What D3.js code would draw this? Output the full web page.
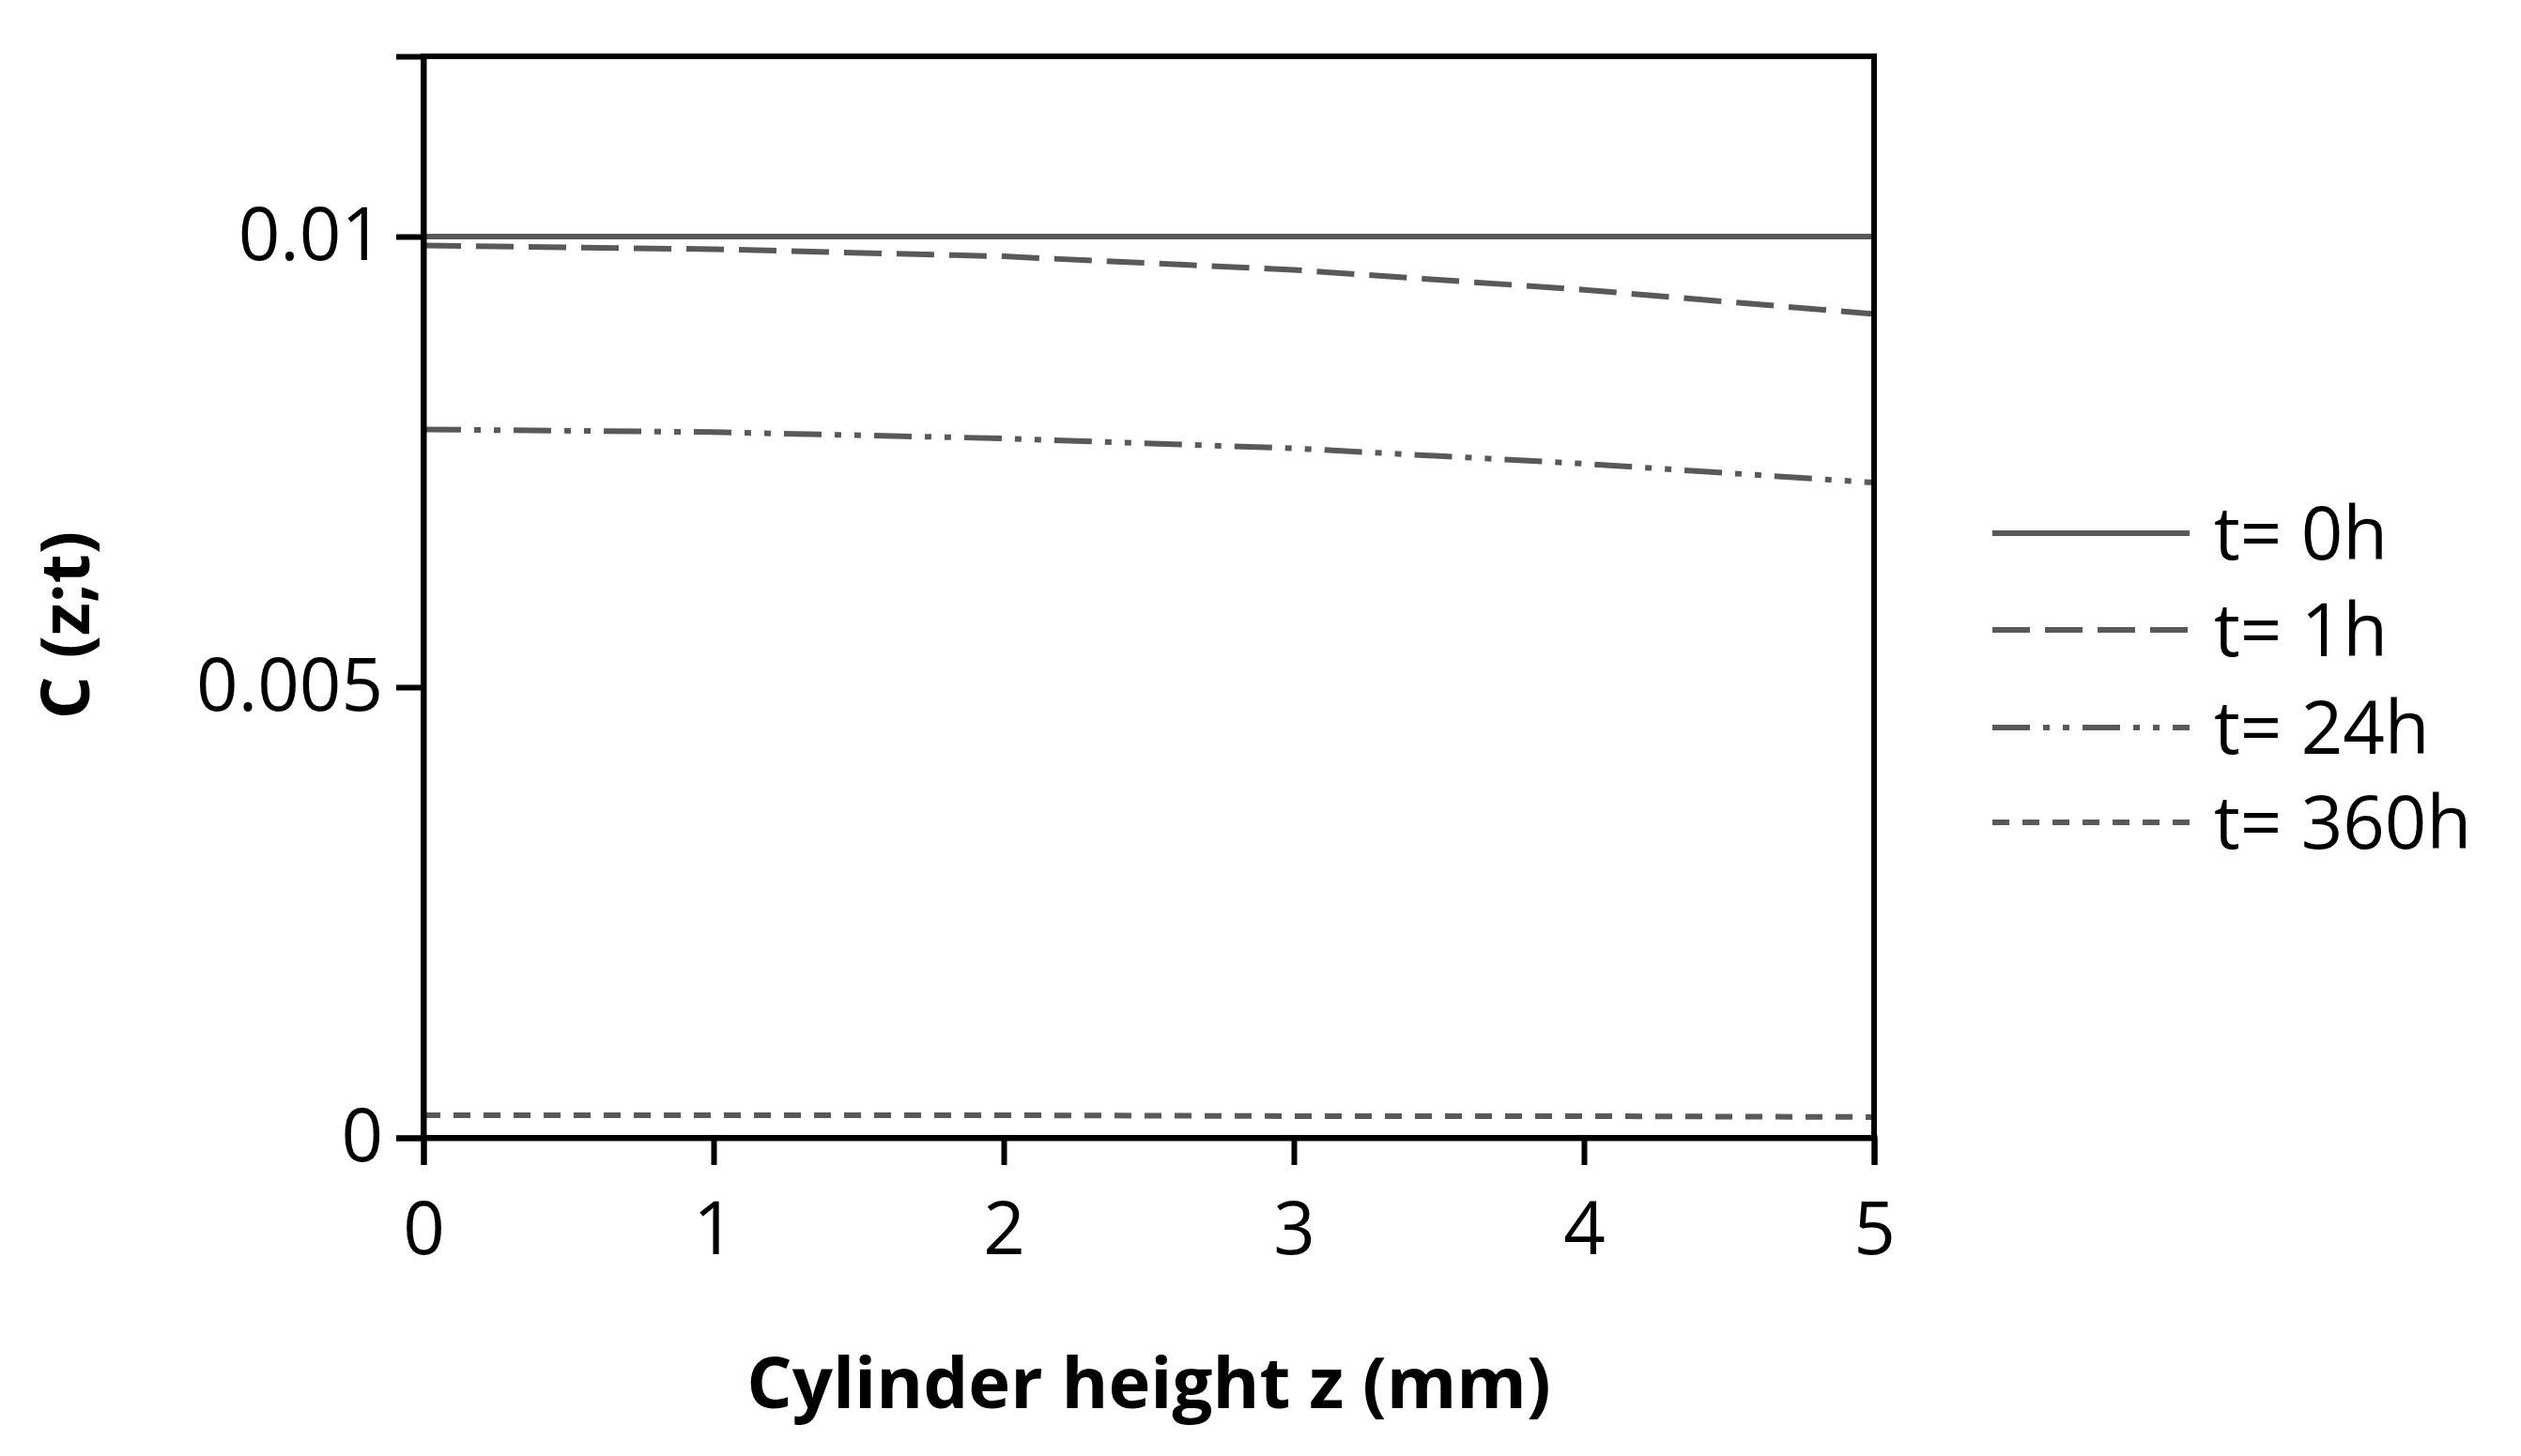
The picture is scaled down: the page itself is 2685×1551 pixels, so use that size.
<!DOCTYPE html><html><head><meta charset="utf-8"><script src="https://cdn.jsdelivr.net/npm/d3@7"></script>
<style>body{margin:0;background:#fff}text{font-family:"Open Sans","Liberation Sans",sans-serif}</style></head><body>
<svg id="c" width="2685" height="1551"></svg>
<script>
const zVals=[0,1,2,3,4,5];
const seriesNames=["t= 0h","t= 1h","t= 24h","t= 360h"];
const s0=[0.0100,0.0100,0.0100,0.0100,0.0100,0.0100];
const s1=[0.00990,0.00986,0.00978,0.00963,0.00941,0.00914];
const s24=[0.00786,0.00783,0.00776,0.00765,0.00748,0.00727];
const s360=[0.00025,0.00025,0.00025,0.00024,0.00024,0.00023];
const xTicks=[0,1,2,3,4,5];
const yTicks=[0,0.005,0.01];
const yTickLabels=["0","0.005","0.01"];
const dashes=[null,"40,16","40,14,7,14,7,14","18,14"];
const svg=d3.select("#c");
const L=451,R=1996,T=60,B=1212;
const x=d3.scaleLinear().domain([0,5]).range([L,R]);
const y=d3.scaleLinear().domain([0,0.012]).range([B,T]);
const col="#595959";
[s0,s1,s24,s360].forEach((s,i)=>{
 svg.append("path").attr("d",d3.line().x((d,j)=>x(zVals[j])).y(d=>y(d))(s))
 .attr("fill","none").attr("stroke",col).attr("stroke-width",6).attr("stroke-dasharray",dashes[i]);
});
svg.append("rect").attr("x",L).attr("y",T).attr("width",R-L).attr("height",B-T).attr("fill","none").attr("stroke","#000").attr("stroke-width",6);
const xa=svg.append("g").attr("transform",`translate(0,${B})`).call(d3.axisBottom(x).tickValues(xTicks).tickFormat(d3.format("d")).tickSize(29).tickPadding(40));
const ya=svg.append("g").attr("transform",`translate(${L},0)`).call(d3.axisLeft(y).tickValues(yTicks).tickFormat((d,i)=>yTickLabels[i]).tickSize(29).tickPadding(14));
[xa,ya].forEach(a=>{a.select(".domain").attr("stroke","#000").attr("stroke-width",6);a.selectAll("line").attr("stroke","#000").attr("stroke-width",6);a.selectAll("text").attr("font-size",78).attr("fill","#000");});
svg.append("text").attr("x",(L+R)/2).attr("y",1500).attr("text-anchor","middle").attr("font-size",76).attr("font-weight","bold").text("Cylinder height z (mm)");
svg.append("text").attr("transform",`translate(95,${(T+B)/2+30}) rotate(-90)`).attr("text-anchor","middle").attr("font-size",72).attr("font-weight","bold").text("C (z;t)");
const ly=[568,671,775,876];
seriesNames.forEach((n,i)=>{
 svg.append("line").attr("x1",2122).attr("x2",2332).attr("y1",ly[i]).attr("y2",ly[i]).attr("stroke",col).attr("stroke-width",6).attr("stroke-dasharray",dashes[i]);
 svg.append("text").attr("x",2358).attr("y",ly[i]+28).attr("font-size",78).text(n);
});
</script></body></html>
